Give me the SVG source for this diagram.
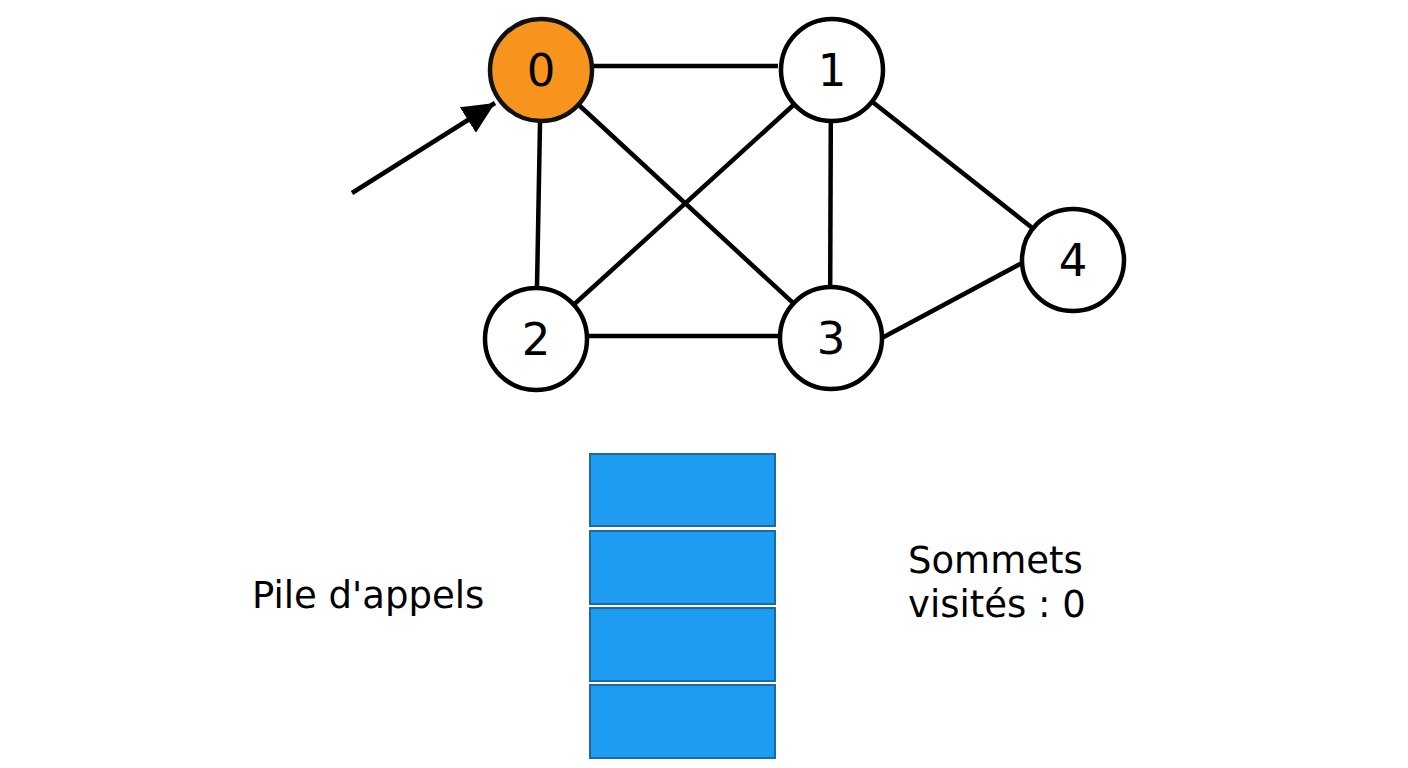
<svg xmlns="http://www.w3.org/2000/svg" width="1408" height="768" viewBox="0 0 1408 768">
<style>
.edge{stroke:#000;stroke-width:4.5;fill:none}
.node circle{fill:#fff;stroke:#000;stroke-width:4.5}
.node.active circle{fill:#f7941e;stroke:#111}
.lbl{font-family:"DejaVu Sans",sans-serif;font-size:45px;text-anchor:middle;fill:#000}
.txt{font-family:"DejaVu Sans",sans-serif;font-size:37px;fill:#000}
.slot{fill:#1e9cf2;stroke:#1d6aa3;stroke-width:2}
</style>
<defs>
<marker id="ah" markerUnits="userSpaceOnUse" markerWidth="34" markerHeight="32" refX="32" refY="15" orient="auto">
<path d="M0,0 L32,15 L0,30 Z" fill="#000"/>
</marker>
</defs>
<rect width="1408" height="768" fill="#fff"/>
<g id="connectors">
<line class="edge" x1="594" y1="66" x2="778" y2="66"/>
<line class="edge" x1="540" y1="123" x2="537" y2="287"/>
<line class="edge" x1="541" y1="70" x2="831" y2="338"/>
<line class="edge" x1="832" y1="70" x2="536" y2="339"/>
<line class="edge" x1="831" y1="70" x2="830" y2="338"/>
<line class="edge" x1="832" y1="70" x2="1073" y2="260"/>
<line class="edge" x1="589" y1="336" x2="778" y2="336"/>
<line class="edge" x1="880" y1="339" x2="1022" y2="263"/>
<line class="edge" x1="352" y1="193" x2="495" y2="103" marker-end="url(#ah)"/>
</g>
<g id="node0" class="node active"><circle cx="541" cy="70" r="51"/><text class="lbl" x="541" y="86">0</text></g>
<g id="node1" class="node"><circle cx="832" cy="70" r="51"/><text class="lbl" x="832" y="86">1</text></g>
<g id="node2" class="node"><circle cx="536" cy="339" r="51"/><text class="lbl" x="536" y="355">2</text></g>
<g id="node3" class="node"><circle cx="831" cy="338" r="51"/><text class="lbl" x="831" y="354">3</text></g>
<g id="node4" class="node"><circle cx="1073" cy="260" r="51"/><text class="lbl" x="1073" y="276">4</text></g>
<g id="stack">
<rect class="slot" x="590" y="454" width="185" height="72"/>
<rect class="slot" x="590" y="531" width="185" height="73"/>
<rect class="slot" x="590" y="608" width="185" height="73"/>
<rect class="slot" x="590" y="685" width="185" height="73"/>
</g>
<g id="labels">
<text class="txt" x="252" y="608">Pile d'appels</text>
<text class="txt" x="908" y="573">Sommets</text>
<text class="txt" x="908" y="617">visités : 0</text>
</g>
</svg>
